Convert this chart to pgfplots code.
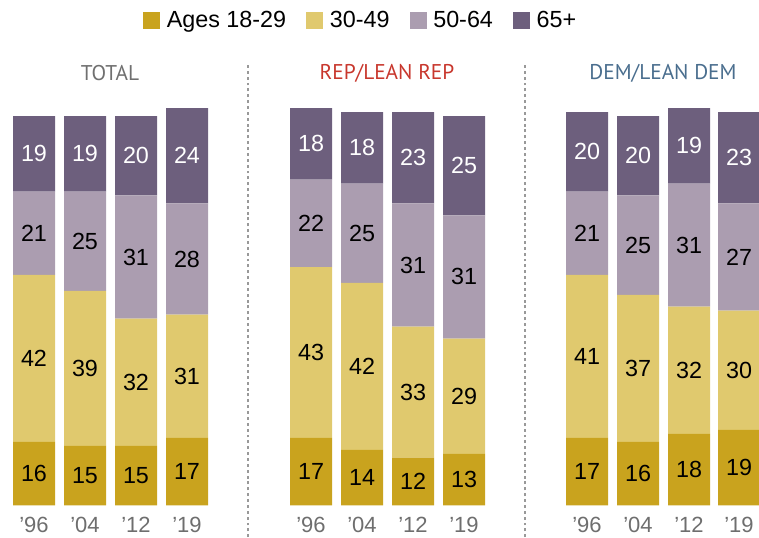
\documentclass[border=0pt]{standalone}
\usepackage{fontspec}
\setmainfont{Liberation Sans}
\newfontfamily\ptsans{PT Sans}
\usepackage{pgfplots}
\usepackage{pgfplotstable}
\pgfplotsset{compat=1.18}

\definecolor{young}{HTML}{C9A31E}
\definecolor{mid}{HTML}{E0C96E}
\definecolor{older}{HTML}{AB9DB0}
\definecolor{senior}{HTML}{6D5F7D}
\definecolor{tickgray}{HTML}{6E6E6E}
\definecolor{totgray}{HTML}{707070}
\definecolor{repred}{HTML}{C8372D}
\definecolor{demblue}{HTML}{4A6E8E}

% x = bar centre (px of the reference), shares in percent
\pgfplotstableread{
x   a  b  c  d
34  16 42 21 19
85  15 39 25 19
136 15 32 31 20
187 17 31 28 24
311 17 43 22 18
362 14 42 25 18
413 12 33 31 23
464 13 29 31 25
587 17 41 21 20
638 16 37 25 20
689 18 32 31 19
739 19 30 27 23
}\shares

\begin{document}
\begin{tikzpicture}
\begin{axis}[
    x=0.75pt, y=2.98pt,
    xmin=0, xmax=759, ymin=0, ymax=127.2,
    axis line style={draw=none},
    major tick length=0pt,
    ytick=\empty,
    xtick={34,85,136,187,311,362,413,464,587,638,689,739},
    xticklabels={’96,’04,’12,’19,’96,’04,’12,’19,’96,’04,’12,’19},
    xticklabel style={font=\fontsize{16.5}{16.5}\selectfont, text=tickgray, inner sep=0pt, anchor=north},
    xticklabel shift=8.5pt,
    ybar stacked,
    bar width=42,
    clip=false,
    point meta=explicit symbolic,
    nodes near coords={\pgfplotspointmeta},
    every node near coord/.append style={font=\fontsize{17.5}{17.5}\selectfont, anchor=center, inner sep=0pt},
    legend columns=4,
    legend style={at={(axis cs:361,122)}, anchor=center, draw=none, fill=none,
        font=\fontsize{17.5}{17.5}\selectfont,
        /tikz/every odd column/.append style={column sep=3pt},
        /tikz/every even column/.append style={column sep=13pt}},
    legend image code/.code={\fill[#1] (0pt,-6.4pt) rectangle (12.8pt,6.4pt);},
]
\addplot[fill=young, draw=none] table[x=x, y=a, meta=a] {\shares};
\addplot[fill=mid, draw=none] table[x=x, y=b, meta=b] {\shares};
\addplot[fill=older, draw=none] table[x=x, y=c, meta=c] {\shares};
\addplot[fill=senior, draw=none, every node near coord/.append style={text=white}] table[x=x, y=d, meta=d] {\shares};
\legend{Ages 18-29, 30-49, 50-64, 65+}

\node[font=\ptsans\fontsize{16}{16}\selectfont, text=totgray] at (axis cs:110,108.8) {TOTAL};
\node[font=\ptsans\fontsize{16}{16}\selectfont, text=repred] at (axis cs:387,108.8) {REP/LEAN REP};
\node[font=\ptsans\fontsize{16}{16}\selectfont, text=demblue] at (axis cs:663,108.8) {DEM/LEAN DEM};

\draw[gray!80, line width=1.5pt, dash pattern=on 2.2pt off 2.2pt] (axis cs:248,-8) -- (axis cs:248,110.8);
\draw[gray!80, line width=1.5pt, dash pattern=on 2.2pt off 2.2pt] (axis cs:525,-8) -- (axis cs:525,110.8);

\coordinate (bl) at (axis cs:0,-8.06);
\coordinate (tr) at (axis cs:759,127.2);
\end{axis}
\pgfresetboundingbox
\useasboundingbox (bl) rectangle (tr);
\end{tikzpicture}
\end{document}
